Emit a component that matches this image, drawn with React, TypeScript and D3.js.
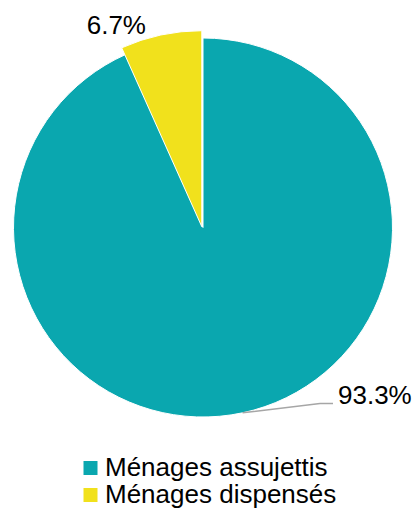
import React from "react";
import * as d3 from "d3";

const categories = ["Ménages assujettis", "Ménages dispensés"];
const values = [93.3, 6.7];
const labels = ["93.3%", "6.7%"];
const colors = ["#0AA7AF", "#F1E11C"];

export default function App() {
  const W = 415, H = 514;
  const cx = 203, cy = 227.5, r = 189.5;
  const pie = d3.pie<number>().sort(null).value((d) => d)(values);
  const arcMain = d3.arc<d3.PieArcDatum<number>>().innerRadius(0).outerRadius(r);
  const arcBig = d3.arc<d3.PieArcDatum<number>>().innerRadius(0).outerRadius(r + 6.5);
  const font = "Liberation Sans, Arial, sans-serif";

  const teal = pie[0];
  const yellow = pie[1];
  const mid = (teal.startAngle + teal.endAngle) / 2;
  const p0: [number, number] = [cx + Math.sin(mid) * r, cy - Math.cos(mid) * r];
  const p1: [number, number] = [320, p0[1] - 9.4];
  const p2: [number, number] = [333, p1[1]];
  const ya = yellow.startAngle;
  const yl: [number, number] = [cx + Math.sin(ya) * 212, cy - Math.cos(ya) * 212];

  return (
    <svg width={W} height={H} style={{ position: "absolute", left: 0, top: 0 }}>
      <g transform={`translate(${cx},${cy})`}>
        <path d={arcMain(teal) || ""} fill={colors[0]} stroke="#fff" strokeWidth={1} />
        <path d={arcBig(yellow) || ""} fill={colors[1]} stroke="#fff" strokeWidth={1} transform="translate(-1.2,-0.8)" />
      </g>
      <polyline
        points={[p0, p1, p2].map((p) => p.join(",")).join(" ")}
        fill="none"
        stroke="#A6A6A6"
        strokeWidth={1.5}
      />
      <text x={338} y={p2[1] + 1} fontFamily={font} fontSize={26} fill="#000">
        {labels[0]}
      </text>
      <text x={yl[0]} y={yl[1]} textAnchor="middle" fontFamily={font} fontSize={26} fill="#000">
        {labels[1]}
      </text>
      {categories.map((c, i) => (
        <g key={c} transform={`translate(0,${i * 27})`}>
          <rect x={83.5} y={461} width={14} height={14} fill={colors[i]} />
          <text x={105} y={476} fontFamily={font} fontSize={26} fill="#000">
            {c}
          </text>
        </g>
      ))}
    </svg>
  );
}
